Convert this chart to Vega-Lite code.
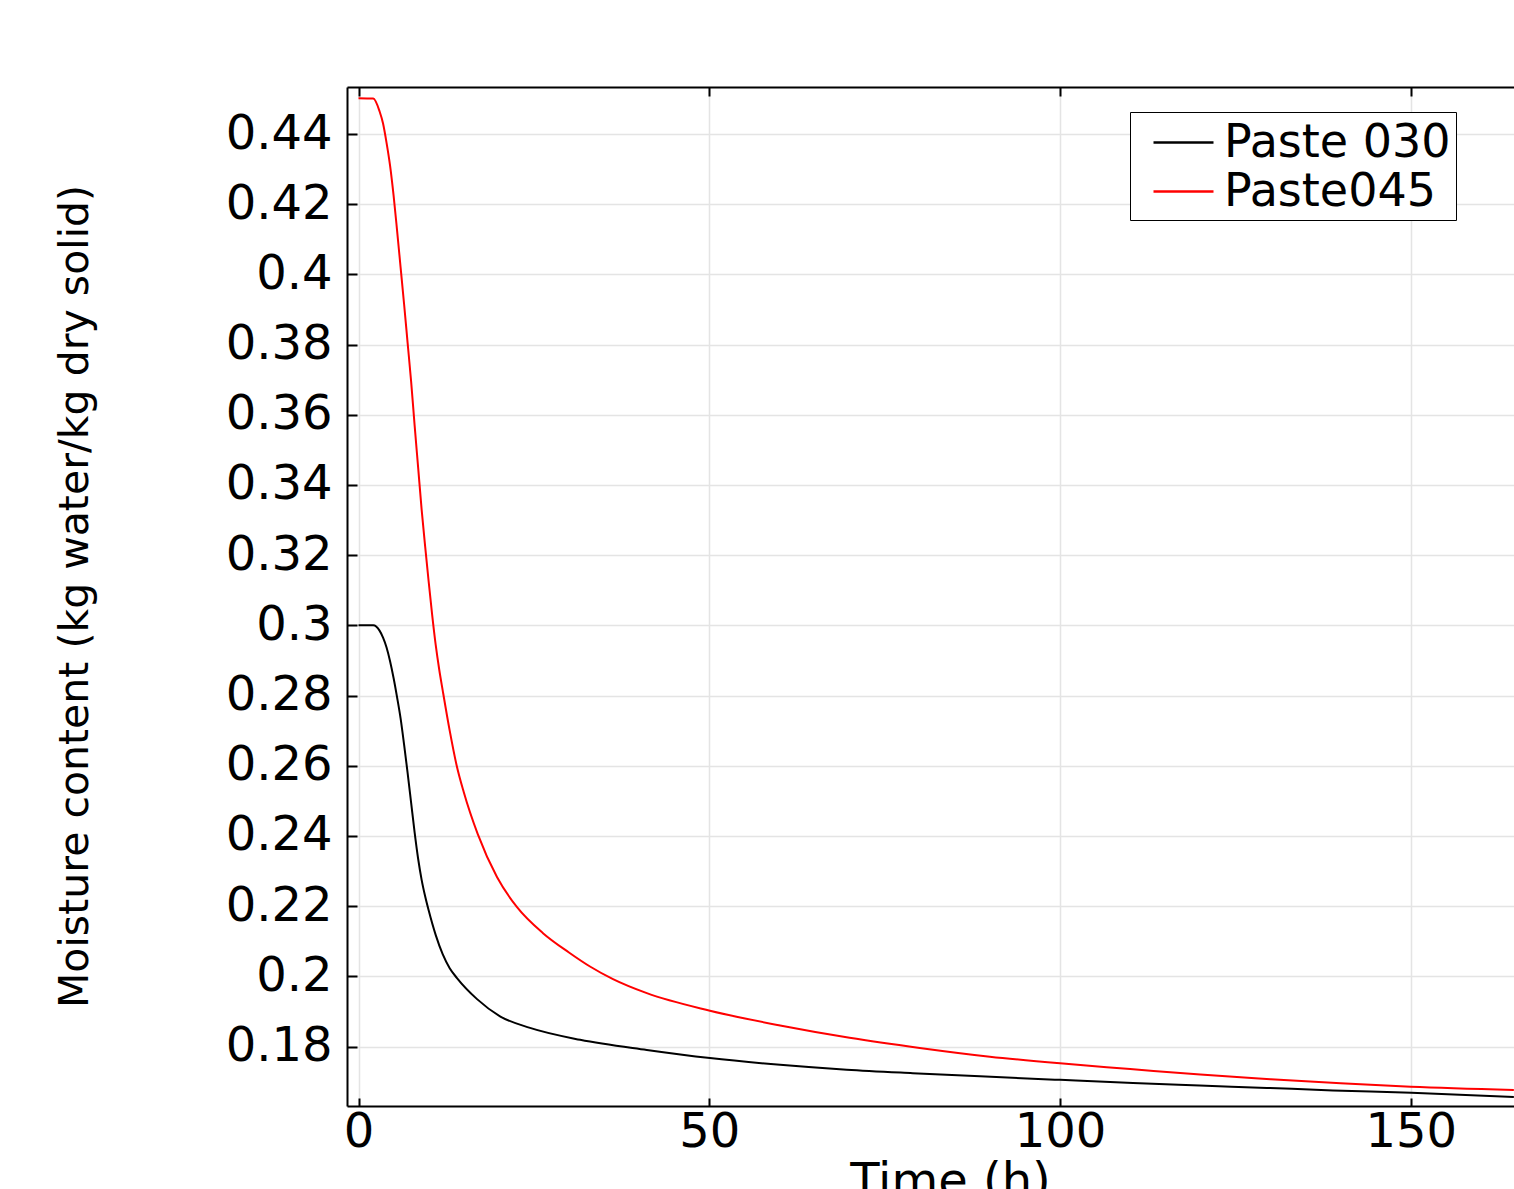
{
  "$schema": "https://vega.github.io/schema/vega-lite/v6.json",
  "autosize": {"type": "none"},
  "padding": {"left": 347, "top": 87, "right": 0, "bottom": 83},
  "width": 1167,
  "height": 1019,
  "background": "white",
  "config": {
    "view": {"stroke": null},
    "font": "DejaVu Sans"
  },
  "data": {
    "values": [
      {"t": 0, "v": 0.3, "s": "Paste 030"},
      {"t": 2.1, "v": 0.3, "s": "Paste 030"},
      {"t": 3.0, "v": 0.2985, "s": "Paste 030"},
      {"t": 3.5, "v": 0.2965, "s": "Paste 030"},
      {"t": 4.0, "v": 0.2937, "s": "Paste 030"},
      {"t": 4.5, "v": 0.2898, "s": "Paste 030"},
      {"t": 5.0, "v": 0.285, "s": "Paste 030"},
      {"t": 5.5, "v": 0.2795, "s": "Paste 030"},
      {"t": 6.0, "v": 0.2735, "s": "Paste 030"},
      {"t": 6.5, "v": 0.266, "s": "Paste 030"},
      {"t": 7.0, "v": 0.258, "s": "Paste 030"},
      {"t": 7.5, "v": 0.2495, "s": "Paste 030"},
      {"t": 8.0, "v": 0.241, "s": "Paste 030"},
      {"t": 8.5, "v": 0.2335, "s": "Paste 030"},
      {"t": 9.0, "v": 0.2275, "s": "Paste 030"},
      {"t": 9.5, "v": 0.2228, "s": "Paste 030"},
      {"t": 10.0, "v": 0.2188, "s": "Paste 030"},
      {"t": 11.0, "v": 0.2118, "s": "Paste 030"},
      {"t": 12.0, "v": 0.2063, "s": "Paste 030"},
      {"t": 13.0, "v": 0.2023, "s": "Paste 030"},
      {"t": 14.04, "v": 0.1995, "s": "Paste 030"},
      {"t": 16.9, "v": 0.1935, "s": "Paste 030"},
      {"t": 20.17, "v": 0.1886, "s": "Paste 030"},
      {"t": 24.45, "v": 0.1853, "s": "Paste 030"},
      {"t": 31.6, "v": 0.1819, "s": "Paste 030"},
      {"t": 41.1, "v": 0.179, "s": "Paste 030"},
      {"t": 50.1, "v": 0.1767, "s": "Paste 030"},
      {"t": 60.1, "v": 0.1748, "s": "Paste 030"},
      {"t": 69.6, "v": 0.1734, "s": "Paste 030"},
      {"t": 79.0, "v": 0.1724, "s": "Paste 030"},
      {"t": 88.6, "v": 0.1715, "s": "Paste 030"},
      {"t": 100, "v": 0.1705, "s": "Paste 030"},
      {"t": 110.4, "v": 0.1696, "s": "Paste 030"},
      {"t": 119.9, "v": 0.1689, "s": "Paste 030"},
      {"t": 129.5, "v": 0.1682, "s": "Paste 030"},
      {"t": 138.9, "v": 0.1675, "s": "Paste 030"},
      {"t": 150.1, "v": 0.1668, "s": "Paste 030"},
      {"t": 164.7, "v": 0.1656, "s": "Paste 030"},
      {"t": 0, "v": 0.4502, "s": "Paste045"},
      {"t": 2.1, "v": 0.4501, "s": "Paste045"},
      {"t": 3.0, "v": 0.4465, "s": "Paste045"},
      {"t": 3.5, "v": 0.443, "s": "Paste045"},
      {"t": 4.0, "v": 0.4375, "s": "Paste045"},
      {"t": 4.5, "v": 0.431, "s": "Paste045"},
      {"t": 5.0, "v": 0.4225, "s": "Paste045"},
      {"t": 5.5, "v": 0.4125, "s": "Paste045"},
      {"t": 6.0, "v": 0.402, "s": "Paste045"},
      {"t": 6.5, "v": 0.3915, "s": "Paste045"},
      {"t": 7.0, "v": 0.3805, "s": "Paste045"},
      {"t": 7.5, "v": 0.3695, "s": "Paste045"},
      {"t": 8.0, "v": 0.357, "s": "Paste045"},
      {"t": 8.5, "v": 0.345, "s": "Paste045"},
      {"t": 9.0, "v": 0.333, "s": "Paste045"},
      {"t": 9.5, "v": 0.3225, "s": "Paste045"},
      {"t": 10.0, "v": 0.3125, "s": "Paste045"},
      {"t": 10.5, "v": 0.303, "s": "Paste045"},
      {"t": 11.0, "v": 0.2945, "s": "Paste045"},
      {"t": 11.5, "v": 0.2875, "s": "Paste045"},
      {"t": 12.0, "v": 0.2815, "s": "Paste045"},
      {"t": 13.0, "v": 0.27, "s": "Paste045"},
      {"t": 14.0, "v": 0.26, "s": "Paste045"},
      {"t": 15.0, "v": 0.2525, "s": "Paste045"},
      {"t": 17.0, "v": 0.2405, "s": "Paste045"},
      {"t": 19.74, "v": 0.2283, "s": "Paste045"},
      {"t": 22.6, "v": 0.2197, "s": "Paste045"},
      {"t": 26.3, "v": 0.2123, "s": "Paste045"},
      {"t": 30.0, "v": 0.2068, "s": "Paste045"},
      {"t": 33.0, "v": 0.2028, "s": "Paste045"},
      {"t": 36.28, "v": 0.1992, "s": "Paste045"},
      {"t": 41.1, "v": 0.1952, "s": "Paste045"},
      {"t": 50.1, "v": 0.1902, "s": "Paste045"},
      {"t": 60.1, "v": 0.186, "s": "Paste045"},
      {"t": 70.0, "v": 0.1825, "s": "Paste045"},
      {"t": 80.0, "v": 0.1796, "s": "Paste045"},
      {"t": 90.0, "v": 0.1771, "s": "Paste045"},
      {"t": 100, "v": 0.1752, "s": "Paste045"},
      {"t": 110, "v": 0.1736, "s": "Paste045"},
      {"t": 120, "v": 0.172, "s": "Paste045"},
      {"t": 130, "v": 0.1707, "s": "Paste045"},
      {"t": 140, "v": 0.1695, "s": "Paste045"},
      {"t": 150, "v": 0.1685, "s": "Paste045"},
      {"t": 164.7, "v": 0.1676, "s": "Paste045"}
    ]
  },
  "layer": [
    {
      "mark": {"type": "line", "strokeWidth": 2, "interpolate": "monotone"},
      "encoding": {
        "x": {
          "field": "t", "type": "quantitative",
          "scale": {"domain": [-1.64, 164.72], "nice": false, "zero": false},
          "axis": {
            "orient": "bottom",
            "values": [0, 50, 100, 150], "format": "d",
            "grid": true, "gridColor": "#e4e4e4", "gridWidth": 1.5,
            "domainColor": "black", "domainWidth": 2,
            "tickColor": "black", "tickWidth": 2, "tickSize": -8,
            "labelFont": "DejaVu Sans", "labelFontSize": 48, "labelColor": "black",
            "labelPadding": 10, "labelFlush": false, "labelOverlap": false,
            "title": "Time (h)", "titleFont": "DejaVu Sans", "titleFontSize": 48,
            "titleFontWeight": "normal", "titleColor": "black",
            "titleX": 603, "titleY": 52, "titleBaseline": "top", "titleAlign": "center"
          }
        },
        "y": {
          "field": "v", "type": "quantitative",
          "scale": {"domain": [0.16305, 0.4534], "nice": false, "zero": false},
          "axis": {
            "values": [0.18, 0.2, 0.22, 0.24, 0.26, 0.28, 0.3, 0.32, 0.34, 0.36, 0.38, 0.4, 0.42, 0.44],
            "format": "~g",
            "grid": true, "gridColor": "#e4e4e4", "gridWidth": 1.5,
            "domainColor": "black", "domainWidth": 2,
            "tickColor": "black", "tickWidth": 2, "tickSize": -10,
            "labelFont": "DejaVu Sans", "labelFontSize": 48, "labelColor": "black",
            "labelPadding": 25, "labelOverlap": false, "labelFlush": false,
            "title": "Moisture content (kg water/kg dry solid)",
            "titleFont": "DejaVu Sans", "titleFontSize": 41, "titleFontWeight": "normal",
            "titleColor": "black", "titleAngle": -90,
            "titleX": -272, "titleY": 509, "titleBaseline": "middle", "titleAlign": "center"
          }
        },
        "color": {
          "field": "s", "type": "nominal",
          "scale": {"domain": ["Paste 030", "Paste045"], "range": ["black", "#ff0000"]},
          "legend": {
            "title": null,
            "orient": "none", "legendX": 783, "legendY": 25,
            "fillColor": "white", "strokeColor": "black",
            "padding": 5, "rowPadding": 0,
            "symbolType": "M-1.25,0H1.25", "symbolSize": 2304,
            "symbolStrokeWidth": 2.5, "symbolOffset": 23,
            "labelFont": "DejaVu Sans", "labelFontSize": 46, "labelColor": "black",
            "labelOffset": 15, "labelBaseline": "middle", "labelLimit": 0
          }
        }
      }
    },
    {
      "mark": {"type": "line", "opacity": 0},
      "encoding": {
        "x": {
          "field": "t", "type": "quantitative",
          "scale": {"domain": [-1.64, 164.72], "nice": false, "zero": false},
          "axis": {
            "orient": "top", "values": [0, 50, 100, 150],
            "labels": false, "grid": false, "title": null,
            "domainColor": "black", "domainWidth": 2,
            "tickColor": "black", "tickWidth": 2, "tickSize": -9
          }
        },
        "y": {
          "field": "v", "type": "quantitative",
          "scale": {"domain": [0.16305, 0.4534], "nice": false, "zero": false},
          "axis": {
            "values": [0.18, 0.2, 0.22, 0.24, 0.26, 0.28, 0.3, 0.32, 0.34, 0.36, 0.38, 0.4, 0.42, 0.44],
            "format": "~g",
            "grid": true, "gridColor": "#e4e4e4", "gridWidth": 1.5,
            "domainColor": "black", "domainWidth": 2,
            "tickColor": "black", "tickWidth": 2, "tickSize": -10,
            "labelFont": "DejaVu Sans", "labelFontSize": 48, "labelColor": "black",
            "labelPadding": 25, "labelOverlap": false, "labelFlush": false,
            "title": "Moisture content (kg water/kg dry solid)",
            "titleFont": "DejaVu Sans", "titleFontSize": 41, "titleFontWeight": "normal",
            "titleColor": "black", "titleAngle": -90,
            "titleX": -272, "titleY": 509, "titleBaseline": "middle", "titleAlign": "center"
          }
        },
        "detail": {"field": "s", "type": "nominal"}
      }
    }
  ],
  "resolve": {"axis": {"x": "independent"}}
}
